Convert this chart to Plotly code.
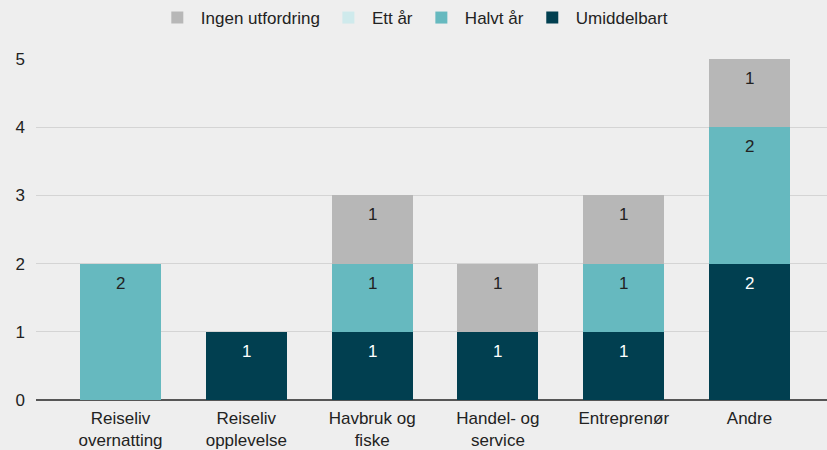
import plotly.graph_objects as go

categories = ["Reiseliv<br>overnatting", "Reiseliv<br>opplevelse", "Havbruk og<br>fiske",
              "Handel- og<br>service", "Entreprenør", "Andre"]
umiddelbart = [None, 1, 1, 1, 1, 2]
halvt_aar = [2, None, 1, None, 1, 2]
ett_aar = [None, None, None, None, None, None]
ingen = [None, None, 1, 1, 1, 1]

series = [
    ("Umiddelbart", umiddelbart, "#013f50", "white"),
    ("Halvt år", halvt_aar, "#66b9bf", "#222222"),
    ("Ett år", ett_aar, "#cfeaec", "#222222"),
    ("Ingen utfordring", ingen, "#b7b7b7", "#222222"),
]

FONT = "Liberation Sans, Arial, sans-serif"

fig = go.Figure()
base = [0] * len(categories)
annotations = []
for name, vals, color, tcolor in series:
    fig.add_trace(go.Bar(
        x=categories, y=vals, name=name,
        marker=dict(color=color, line=dict(width=0)),
        width=0.645, hoverinfo="x+y+name",
    ))
    for i, v in enumerate(vals):
        if v:
            base[i] += v
            annotations.append(dict(
                x=categories[i], y=base[i], xref="x", yref="y", text=str(v),
                showarrow=False, yanchor="top", yshift=-8,
                font=dict(color=tcolor, size=17, family=FONT),
            ))

fig.update_layout(
    barmode="stack",
    width=827, height=450,
    paper_bgcolor="#eeeeee", plot_bgcolor="#eeeeee",
    margin=dict(l=36, r=0, t=59, b=50, autoexpand=False),
    font=dict(family=FONT, size=17, color="#222222"),
    legend=dict(orientation="h", x=0.477, xanchor="center", y=1.0, yref="container",
                yanchor="top", traceorder="reversed", font=dict(size=17),
                itemwidth=37, bgcolor="rgba(0,0,0,0)"),
    showlegend=True,
    annotations=annotations,
)
fig.update_xaxes(range=[-0.672, 5.616], showgrid=False, ticks="", tickfont=dict(size=17),
                 ticklabelstandoff=6)
fig.update_yaxes(range=[0, 5], dtick=1, showgrid=True, gridcolor="#d4d4d4", gridwidth=1,
                 zeroline=True, zerolinecolor="#555555", zerolinewidth=2,
                 tickfont=dict(size=17), ticklabelstandoff=10)

fig.write_html("out.html", config={"displayModeBar": False},
               post_script="document.body.style.margin='0';document.body.style.background='#eeeeee';")
